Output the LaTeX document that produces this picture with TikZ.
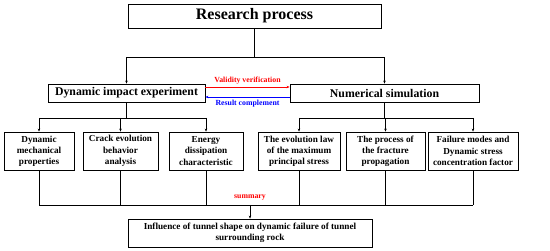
\documentclass[tikz,border=0pt]{standalone}
\usepackage{fontspec}
\setmainfont{Liberation Serif}
\usetikzlibrary{arrows.meta}
\tikzset{
  box/.style={draw,line width=0.8pt,inner sep=1pt,align=center,font=\bfseries},
  small/.style={box,font=\fontsize{9.2}{11.2}\selectfont\bfseries},
  mid/.style={box,minimum height=18pt,font=\fontsize{11.8}{14}\selectfont\bfseries},
  ln/.style={line width=0.8pt},
  arr/.style={ln,-{Stealth[length=3pt,width=2.5pt]}},
  lab/.style={font=\fontsize{7.8}{9}\selectfont\bfseries,inner sep=1pt},
}
\begin{document}
\begin{tikzpicture}[x=1pt,y=-1pt]
\useasboundingbox (0,0) rectangle (550,251);
\node[box,minimum width=253pt,minimum height=24pt,font=\fontsize{16}{18}\selectfont\bfseries] (rp) at (254.5,16) {Research process};
\node[mid,minimum width=157pt] (die) at (126.5,93) {Dynamic impact experiment};
\node[mid,minimum width=189pt] (ns) at (384.5,93) {Numerical simulation};
\node[small,minimum width=70pt,minimum height=38pt] (b1) at (39,151) {Dynamic\\mechanical\\properties};
\node[small,minimum width=75pt,minimum height=38pt] (b2) at (120.5,151) {Crack evolution\\behavior\\analysis};
\node[small,minimum width=74pt,minimum height=38pt] (b3) at (206,151) {Energy\\dissipation\\characteristic};
\node[small,minimum width=82pt,minimum height=38pt] (b4) at (299,151) {The evolution law\\of the maximum\\principal stress};
\node[small,minimum width=79pt,minimum height=38pt] (b5) at (385.5,151) {The process of\\the fracture\\propagation};
\node[small,minimum width=90pt,minimum height=38pt] (b6) at (473,151) {Failure modes and\\Dynamic stress\\concentration factor};
\node[small,minimum width=244pt,minimum height=28pt] (fin) at (250,233) {Influence of tunnel shape on dynamic failure of tunnel\\surrounding rock};
% top split
\coordinate (t0) at (rp.south |- 0,57);
\draw[ln] (rp.south) -- (t0);
\draw[arr] (t0) -| (die.north);
\draw[arr] (t0) -| (ns.north);
% arrows between
\coordinate (va) at (die.east |- 0,87);
\coordinate (vb) at (ns.west |- 0,87);
\coordinate (ra) at (ns.west |- 0,97);
\coordinate (rb) at (die.east |- 0,97);
\draw[ln,red,-{Stealth[length=3pt,width=2.5pt]}] (va) -- (vb) node[pos=0.5,above=1.5pt,lab]{Validity verification};
\draw[ln,blue,-{Stealth[length=3pt,width=2.5pt]}] (ra) -- (rb) node[pos=0.5,below=2pt,lab]{Result complement};
% lower split
\coordinate (l0) at (die.south |- 0,118);
\coordinate (r0) at (ns.south |- 0,118);
\draw[ln] (die.south) -- (l0);
\draw[ln] (ns.south) -- (r0);
\draw[ln] (b1.north |- l0) -- (b3.north |- l0);
\draw[ln] (b4.north |- r0) -- (b6.north |- r0);
\foreach \b in {b1,b2,b3}{\draw[arr] (\b.north |- l0) -- (\b.north);}
\foreach \b in {b4,b5,b6}{\draw[arr] (\b.north |- r0) -- (\b.north);}
% bottom merge
\coordinate (m0) at (fin.north |- 0,205);
\foreach \b in {b1,b2,b3,b4,b5,b6}{\draw[ln] (\b.south) -- (\b.south |- m0);}
\draw[ln] (b1.south |- m0) -- (b6.south |- m0);
\draw[arr] (m0) -- (fin.north) node[pos=0,above=3pt,red,lab]{summary};
\end{tikzpicture}
\end{document}
